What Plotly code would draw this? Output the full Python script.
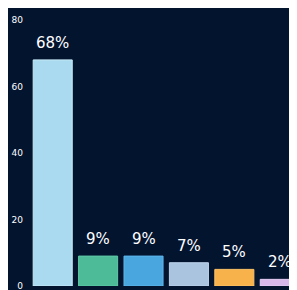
import plotly.graph_objects as go

categories = ["A", "B", "C", "D", "E", "F"]
values = [68, 9, 9, 7, 5, 2]
labels = ["68%", "9%", "9%", "7%", "5%", "2%"]
colors = ["#a9daf0", "#4dbb98", "#4aa6df", "#aac4e0", "#f7b24c", "#d8b8ea"]
line_colors = ["#c9ecf8", "#5fcaa6", "#5cb6ec", "#bdd3ea", "#ffc266", "#e6cdf4"]
y_ticks = [0, 20, 40, 60, 80]

bg = "#03142f"

fig = go.Figure()
fig.add_trace(go.Bar(
    x=categories, y=values,
    marker=dict(color=colors, line=dict(color=line_colors, width=1)),
    width=0.86,
))
for c, v, t in zip(categories, values, labels):
    fig.add_annotation(x=c, y=v, text=t, showarrow=False, yanchor="bottom",
                       yshift=6, font=dict(color="white", size=15, family="DejaVu Sans"))

fig.update_layout(
    width=297, height=290,
    margin=dict(l=22, r=8, t=12, b=12, autoexpand=False),
    paper_bgcolor=bg, plot_bgcolor=bg,
    showlegend=False,
    xaxis=dict(range=[-0.5, 5.38], showticklabels=False, showgrid=False, zeroline=False,
               automargin=False),
    yaxis=dict(range=[0, 80], tickvals=y_ticks, showgrid=False, zeroline=False,
               automargin=False,
               tickfont=dict(color="white", size=9, family="Arial Black, DejaVu Sans"),
               ticks="", ticklabelstandoff=6),
)
fig.write_html("out.html")
